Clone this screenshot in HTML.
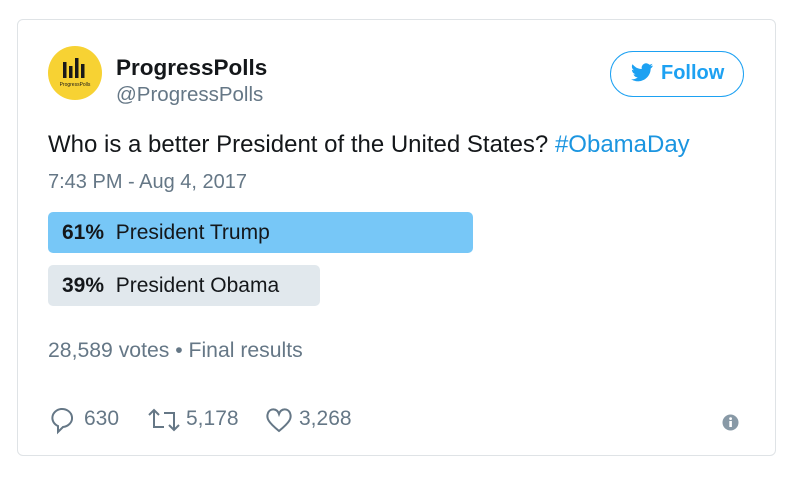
<!DOCTYPE html>
<html><head><meta charset="utf-8"><style>
body{margin:0;width:798px;height:481px;background:#fff;font-family:"Liberation Sans",sans-serif;position:relative;overflow:hidden}
.a{position:absolute;white-space:nowrap}
#card{position:absolute;left:17px;top:19px;width:759px;height:437px;border:1px solid #dfe3e6;border-radius:6px;box-sizing:border-box}
.bar{position:absolute;left:48px;height:41px;border-radius:5px}
.lbl{position:absolute;left:62px;font-size:21px;color:#14171a;line-height:41px}
.gray{color:#657786}
</style></head><body>
<div id="card"></div>
<svg class="a" style="left:48px;top:46px" width="54" height="54">
<circle cx="27" cy="27" r="27" fill="#f7d233"/>
<rect x="15" y="16" width="3.5" height="16" fill="#1a1a1a"/><rect x="21" y="20" width="3.5" height="12" fill="#1a1a1a"/><rect x="27" y="12" width="3.5" height="20" fill="#1a1a1a"/><rect x="33" y="18" width="3.5" height="14" fill="#1a1a1a"/>
<text x="27" y="40" font-size="5" text-anchor="middle" fill="#1a1a1a" font-family="Liberation Sans">ProgressPolls</text>
</svg>
<div class="a" style="left:116px;top:55px;font-size:22.5px;font-weight:bold;color:#14171a">ProgressPolls</div>
<div class="a gray" style="left:116px;top:83px;font-size:20.5px">@ProgressPolls</div>
<div class="a" style="left:610px;top:51px;width:134px;height:46px;border:1.5px solid #1da1f2;border-radius:23px;box-sizing:border-box;color:#1da1f2;font-size:20px;font-weight:bold;line-height:43px;padding-left:50px">Follow</div>
<svg class="a" style="left:630px;top:63px" width="24" height="20"><path d="M23 2.5c-.8.4-1.7.6-2.6.7.9-.6 1.6-1.4 2-2.5-.9.5-1.9.9-2.9 1.1A4.5 4.5 0 0 0 11.8 6 12.8 12.8 0 0 1 2.5 1.3a4.5 4.5 0 0 0 1.4 6 4.5 4.5 0 0 1-2-.6 4.5 4.5 0 0 0 3.6 4.5 4.5 4.5 0 0 1-2 .1 4.5 4.5 0 0 0 4.200 3.1A9 9 0 0 1 1 16.3 12.8 12.8 0 0 0 20.7 5.5c.9-.6 1.7-1.4 2.3-3z" fill="#1da1f2"/></svg>
<div class="a" style="left:48px;top:131px;font-size:24px;color:#14171a">Who is a better President of the United States? <span style="color:#1b95e0">#ObamaDay</span></div>
<div class="a gray" style="left:48px;top:171px;font-size:20px">7:43 PM - Aug 4, 2017</div>
<div id="poll"></div>
<div class="a gray" style="left:48px;top:339px;font-size:21.2px">28,589 votes • Final results</div>
<svg class="a" style="left:48px;top:405px" width="30" height="30"><path d="M13 4a10 9 0 1 1 2 18l-5 5v-6a10 9 0 0 1 3-17z" fill="none" stroke="#657786" stroke-width="2"/></svg>
<div class="a gray" style="left:84px;top:407px;font-size:21px">630</div>
<svg class="a" style="left:146px;top:407px" width="36" height="26"><path d="M3 8l5-5 5 5M8 3v17h10M33 18l-5 5-5-5M28 23V6H18" fill="none" stroke="#657786" stroke-width="2"/></svg>
<div class="a gray" style="left:186px;top:407px;font-size:21px">5,178</div>
<svg class="a" style="left:264px;top:406px" width="30" height="28"><path d="M15 25C4 16 2 12 4 7s9-5 11 1c2-6 9-6 11-1s0 9-11 18z" fill="none" stroke="#657786" stroke-width="2"/></svg>
<div class="a gray" style="left:299px;top:407px;font-size:21px">3,268</div>
<svg class="a" style="left:722px;top:414px" width="17" height="17"><circle cx="8.5" cy="8.5" r="8" fill="#8899a6"/><rect x="7.3" y="7" width="2.6" height="6" fill="#fff"/><circle cx="8.6" cy="4.6" r="1.4" fill="#fff"/></svg>
<script>
const choices=["President Trump","President Obama"];
const percents=[61,39];
const poll=document.getElementById('poll');
const full=697;
choices.forEach((c,i)=>{
  const top=212+i*53;
  const b=document.createElement('div');
  b.className='bar';
  
  
  b.style.top=top+'px';
  b.style.width=(full*percents[i]/100)+'px';
  b.style.background=i===0?'#77c7f7':'#e1e8ed';
  poll.appendChild(b);
  const l=document.createElement('div');
  l.className='lbl';
  
  
  l.style.top=top+'px';
  l.innerHTML='<b>'+percents[i]+'%</b>&nbsp; '+c;
  poll.appendChild(l);
});
</script>
</body></html>
